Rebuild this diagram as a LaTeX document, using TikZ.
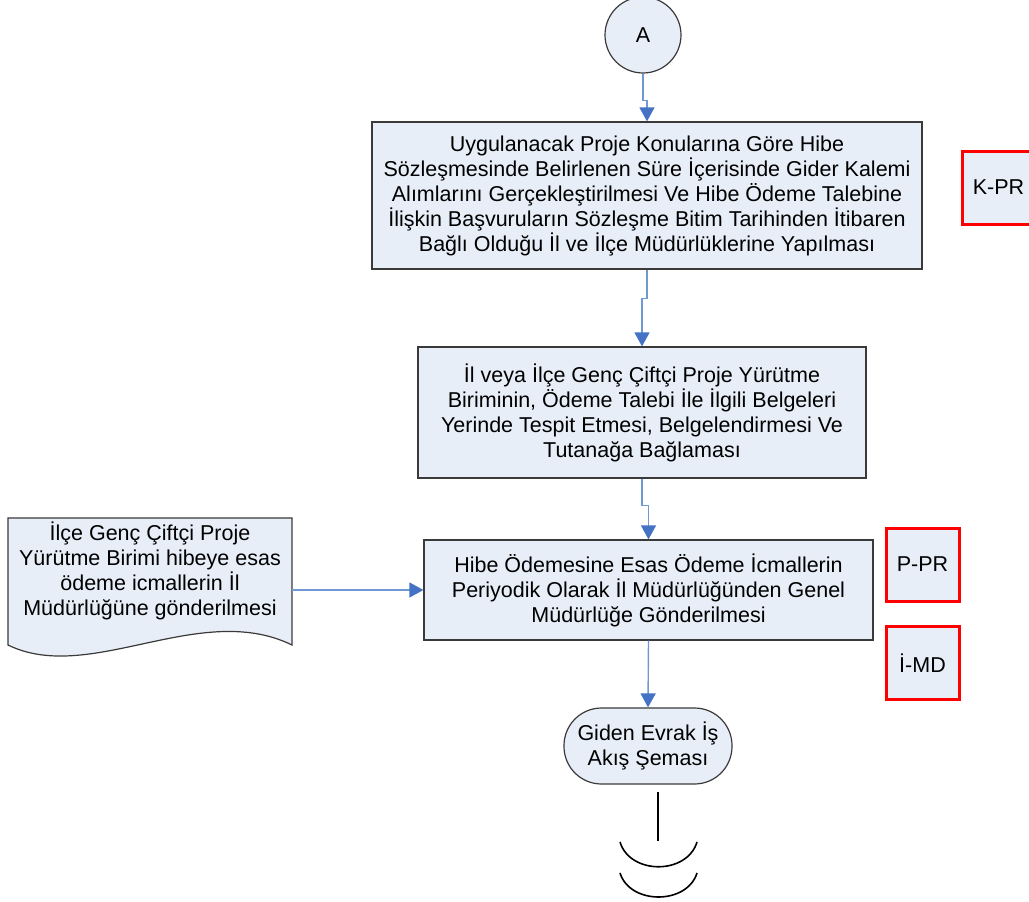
\documentclass[tikz,border=0pt]{standalone}
\usepackage{fontspec}
\setmainfont{Liberation Sans}
\usetikzlibrary{arrows.meta,calc}
\definecolor{boxfill}{HTML}{E8EEF8}
\definecolor{boxline}{HTML}{3A3A3A}
\definecolor{arrline}{HTML}{6F98D4}
\definecolor{arrhead}{HTML}{4472C4}
\tikzset{
  txt/.style={font=\fontsize{21.5}{25}\selectfont, align=center, inner sep=0pt},
  procbox/.style={txt, draw=boxline, fill=boxfill, line width=1.2pt},
  refbox/.style={txt, draw=red, fill=boxfill, line width=3pt, minimum width=73pt, minimum height=73pt},
  conn/.style={draw=arrline, line width=1.4pt, -{Triangle[length=14pt,width=15pt,color=arrhead]}},
  plainline/.style={draw=black, line width=1.6pt},
}
\begin{document}
\begin{tikzpicture}[x=1pt,y=-1pt]
\useasboundingbox (0,0) rectangle (1029,902);
% connector A
\node[txt, circle, draw=boxline, fill=boxfill, line width=1.2pt, minimum size=76pt] (A) at (643,35) {A};
\node[procbox, minimum width=550pt, minimum height=147pt] (b1) at (647,195.5)
 {Uygulanacak Proje Konularına Göre Hibe\\Sözleşmesinde Belirlenen Süre İçerisinde Gider Kalemi\\Alımlarını Gerçekleştirilmesi Ve Hibe Ödeme Talebine\\İlişkin Başvuruların Sözleşme Bitim Tarihinden İtibaren\\Bağlı Olduğu İl ve İlçe Müdürlüklerine Yapılması};
\node[refbox] (kpr) at (998.5,187.5) {K-PR};
\node[procbox, minimum width=448pt, minimum height=131pt] (b2) at (642,412.5)
 {İl veya İlçe Genç Çiftçi Proje Yürütme\\Biriminin, Ödeme Talebi İle İlgili Belgeleri\\Yerinde Tespit Etmesi, Belgelendirmesi Ve\\Tutanağa Bağlaması};
\node[procbox, minimum width=449pt, minimum height=100pt] (b3) at (648.5,590)
 {Hibe Ödemesine Esas Ödeme İcmallerin\\Periyodik Olarak İl Müdürlüğünden Genel\\Müdürlüğe Gönderilmesi};
\node[refbox] (ppr) at (922.5,564.5) {P-PR};
\node[refbox] (imd) at (922.5,663) {İ-MD};
% document shape
\draw[draw=boxline, fill=boxfill, line width=1.2pt]
  (8,518) -- (292,518) -- (292,645) .. controls (200,600) and (90,685) .. (8,645) -- cycle;
\node[txt] (doc) at (150,571)
 {İlçe Genç Çiftçi Proje\\Yürütme Birimi hibeye esas\\ödeme icmallerin İl\\Müdürlüğüne gönderilmesi};
\coordinate (docR) at (292,590);
% terminator
\node[procbox, rounded corners=37.5pt, minimum width=168pt, minimum height=76pt] (term) at (648,746)
 {Giden Evrak İş\\Akış Şeması};
% connectors
\draw[conn] (A.south) -- ++(0,27) -| (b1.north);
\draw[conn] (b1.south) -- ++(0,29) -| (b2.north);
\draw[conn] (b2.south) -- ++(0,27) -| (b3.north);
\draw[conn] (docR) -- (b3.west);
\draw[conn] (b3.south) -- (term.north);
% off-page continuation
\coordinate (lt) at (658,792);
\coordinate (lb) at (658,841);
\draw[plainline] (lt) -- (lb);
\draw[plainline] (620,842) .. controls (630,875) and (687,875) .. (697,842);
\draw[plainline] (620,873) .. controls (630,905) and (687,905) .. (697,873);
\end{tikzpicture}
\end{document}
